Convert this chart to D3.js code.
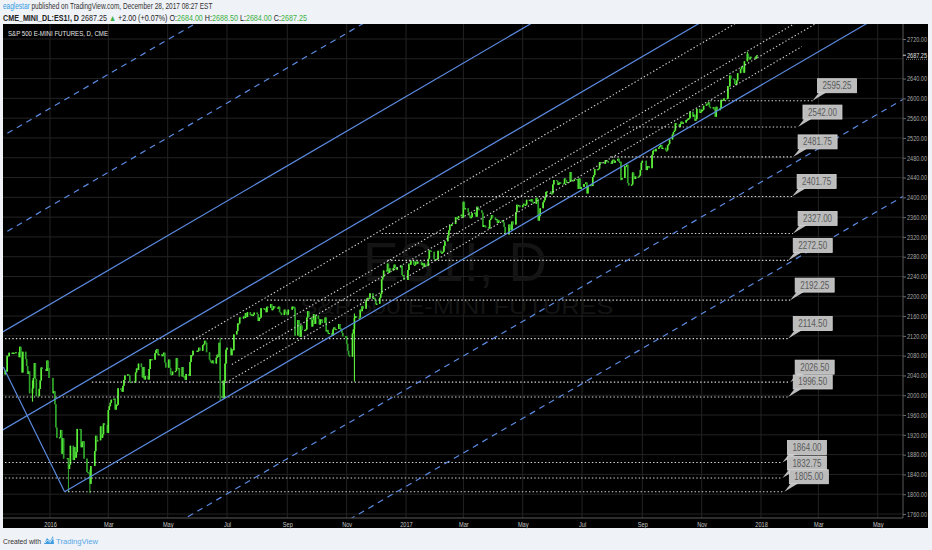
<!DOCTYPE html>
<html>
<head>
<meta charset="utf-8">
<script src="https://cdnjs.cloudflare.com/ajax/libs/d3/7.8.5/d3.min.js"></script>
<style>
    body { margin: 0; background: #eff2f7; }
    svg { display: block; font-family: "Liberation Sans", Arial, sans-serif; }
</style>
</head>
<body>
<div id="chart"></div>
<script>
// ES1! daily closes, one inner array per month (trading days only)
const firstDay = "2015-11-16";
const closes2015 = [
    [2050, 2048, 2080, 2079, 2086, 2084, 2086, 2086, 2087, 2077],
    [2098, 2077, 2046, 2088, 2073, 2059, 2043, 2048, 2004, 2014, 2035, 2065, 2033, 1998, 2013, 2030, 2056, 2053, 2049, 2070, 2055, 2035]
];
const closes2016 = [
    [2004, 2008, 1982, 1935, 1914, 1915, 1930, 1882, 1913, 1872, 1873, 1851, 1860, 1898, 1869, 1895, 1874, 1885, 1932],
    [1931, 1895, 1905, 1907, 1872, 1845, 1844, 1843, 1821, 1857, 1887, 1918, 1909, 1909, 1937, 1914, 1921, 1943, 1940, 1924],
    [1970, 1978, 1985, 1991, 1993, 1971, 1981, 1981, 2014, 2011, 2007, 2019, 2031, 2040, 2042, 2040, 2027, 2026, 2028, 2046, 2054, 2051],
    [2064, 2057, 2036, 2057, 2032, 2039, 2032, 2053, 2073, 2073, 2072, 2085, 2091, 2093, 2082, 2083, 2079, 2082, 2086, 2066, 2056],
    [2072, 2055, 2042, 2041, 2048, 2049, 2075, 2055, 2055, 2038, 2057, 2038, 2038, 2031, 2043, 2039, 2067, 2081, 2081, 2090, 2088],
    [2090, 2096, 2090, 2101, 2103, 2110, 2106, 2087, 2072, 2068, 2065, 2070, 2064, 2076, 2082, 2078, 2106, 2030, 1994, 2029, 2064, 2092],
    [2096, 2081, 2093, 2091, 2123, 2130, 2145, 2145, 2157, 2155, 2159, 2156, 2166, 2158, 2168, 2162, 2163, 2160, 2163, 2167],
    [2164, 2150, 2157, 2157, 2176, 2174, 2175, 2168, 2179, 2177, 2184, 2172, 2175, 2180, 2177, 2175, 2179, 2168, 2166, 2162, 2173, 2169, 2164],
    [2163, 2173, 2179, 2179, 2175, 2121, 2152, 2120, 2118, 2141, 2132, 2132, 2133, 2157, 2170, 2158, 2139, 2152, 2164, 2144, 2161],
    [2154, 2143, 2153, 2153, 2146, 2157, 2129, 2132, 2125, 2126, 2120, 2133, 2137, 2134, 2134, 2144, 2136, 2132, 2126, 2119, 2119],
    [2104, 2090, 2081, 2078, 2125, 2133, 2156, 2160, 2157, 2157, 2173, 2170, 2180, 2175, 2191, 2196, 2197, 2206, 2195, 2197, 2192],
    [2184, 2185, 2197, 2205, 2234, 2239, 2252, 2251, 2266, 2247, 2256, 2252, 2257, 2264, 2259, 2254, 2258, 2262, 2243, 2243, 2233]
];
const closes2017 = [
    [2253, 2266, 2264, 2272, 2264, 2264, 2270, 2266, 2270, 2263, 2267, 2259, 2266, 2261, 2276, 2293, 2292, 2290, 2275, 2274],
    [2275, 2276, 2292, 2288, 2288, 2290, 2302, 2311, 2323, 2333, 2344, 2342, 2346, 2360, 2357, 2358, 2362, 2365, 2359],
    [2391, 2376, 2378, 2370, 2363, 2358, 2360, 2368, 2369, 2361, 2381, 2377, 2374, 2369, 2340, 2344, 2341, 2340, 2337, 2354, 2357, 2364, 2359],
    [2355, 2356, 2348, 2353, 2351, 2353, 2349, 2340, 2325, 2345, 2338, 2334, 2351, 2345, 2370, 2385, 2383, 2384, 2380],
    [2384, 2387, 2384, 2385, 2395, 2395, 2392, 2396, 2390, 2387, 2399, 2396, 2353, 2362, 2378, 2390, 2394, 2400, 2411, 2412, 2408, 2408],
    [2426, 2435, 2433, 2425, 2429, 2430, 2428, 2427, 2438, 2435, 2430, 2431, 2451, 2435, 2434, 2433, 2436, 2437, 2417, 2438, 2417, 2421],
    [2427, 2430, 2408, 2423, 2425, 2423, 2441, 2445, 2457, 2457, 2458, 2471, 2471, 2470, 2468, 2475, 2475, 2473, 2470, 2468],
    [2474, 2476, 2470, 2474, 2478, 2472, 2472, 2436, 2439, 2463, 2462, 2466, 2429, 2424, 2426, 2450, 2442, 2437, 2442, 2442, 2444, 2455, 2470],
    [2474, 2455, 2463, 2463, 2459, 2486, 2494, 2496, 2493, 2498, 2501, 2504, 2506, 2498, 2500, 2495, 2495, 2505, 2508, 2517],
    [2527, 2532, 2535, 2550, 2547, 2542, 2548, 2553, 2549, 2551, 2556, 2557, 2559, 2560, 2573, 2563, 2567, 2555, 2558, 2579, 2571, 2573],
    [2577, 2577, 2585, 2589, 2588, 2592, 2583, 2580, 2582, 2577, 2563, 2583, 2576, 2580, 2597, 2595, 2600, 2599, 2625, 2624, 2646],
    [2640, 2639, 2629, 2629, 2636, 2651, 2659, 2664, 2662, 2652, 2675, 2690, 2681, 2679, 2684, 2683, 2680, 2685, 2687.25]
];
const firstOpen = 2042;
const holidays = ["2015-11-26", "2015-12-25", "2016-01-01", "2016-01-18", "2016-02-15", "2016-03-25", "2016-05-30",
    "2016-07-04", "2016-09-05", "2016-11-24", "2016-12-26", "2017-01-02", "2017-01-16", "2017-02-20", "2017-04-14",
    "2017-05-29", "2017-07-04", "2017-09-04", "2017-11-23", "2017-12-25"];
// long wicks: date, low, high
const wicks = [
    ["2015-12-14", 1987, 2030], ["2016-01-20", 1804, 1870], ["2016-02-11", 1802, 1850],
    ["2016-06-24", 1990, 2116], ["2016-09-09", 2120, 2178], ["2016-11-09", 2028, 2165],
    ["2017-08-10", 2434, 2470], ["2017-12-18", 2678, 2694]
];

// horizontal levels (callouts)
const levelPrices = [2595.25, 2542.00, 2481.75, 2401.75, 2327.00, 2272.50, 2192.25, 2114.50, 2026.50, 1996.50, 1864.00, 1832.75, 1805.00];
const levelStarts = ["2017-11-10", "2017-08-18", "2017-07-30", "2017-02-25", "2016-12-07", "2016-12-13", "2016-08-11",
    "2015-11-01", "2016-02-13", "2015-11-01", "2015-11-01", "2015-11-01", "2016-01-16"];
const levelEnds = ["2018-02-23", "2018-02-08", "2018-02-03", "2018-02-02", "2018-02-03", "2018-01-29", "2018-01-31",
    "2018-01-29", "2018-01-31", "2018-01-29", "2018-01-23", "2018-01-23", "2018-01-25"];

// pitchfork: lower tine through two points, other tines offset in price
const forkBase = [["2016-01-16", 1805], ["2018-01-01", 2626.5]];
const forkHandle = [["2015-11-14", 2057], ["2016-01-16", 1805]];
const forkOffsets = [-392, -196, 0, 198, 396, 594, 792];
const forkDashed = [true, true, false, false, false, true, true];

// dotted guide lines inside the fork
const guideOffsets = [155, 85, 60, 30];
const guideStarts = ["2016-05-27", "2016-07-31", "2016-07-06", "2016-06-27"];
const guideEnds = ["2018-08-01", "2018-08-01", "2018-08-01", "2018-02-12"];

const priceTicks = [1760, 1800, 1840, 1880, 1920, 1960, 2000, 2040, 2080, 2120, 2160, 2200, 2240, 2280, 2320, 2360,
    2400, 2440, 2480, 2520, 2560, 2600, 2640, 2680, 2720];
const timeTicks = ["2016-01-01", "2016-03-01", "2016-05-01", "2016-07-01", "2016-09-01", "2016-11-01", "2017-01-01",
    "2017-03-01", "2017-05-01", "2017-07-01", "2017-09-01", "2017-11-01", "2018-01-01", "2018-03-01", "2018-05-01"];
const timeTickLabels = ["2016", "Mar", "May", "Jul", "Sep", "Nov", "2017", "Mar", "May", "Jul", "Sep", "Nov", "2018", "Mar", "May"];
const lastPrice = 2687.25;

const plot = {left: 3, top: 24, right: 903, bottom: 518};
const font = '"Liberation Sans", Arial, sans-serif';
const green = "#3cb043";

let parse = d3.timeParse("%Y-%m-%d");
let fmt = d3.timeFormat("%Y-%m-%d");

let svg = d3.select("#chart")
    .append("svg")
    .attr("width", 932)
    .attr("height", 550);

let x = d3.scaleTime()
    .domain([new Date(2016, 0, 1), new Date(2018, 0, 1)])
    .range([50, 761]);
let y = d3.scaleLinear()
    .domain([1760, 2720])
    .range([514, 39]);

function fit(sel, w) {
    sel.attr("textLength", w).attr("lengthAdjust", "spacingAndGlyphs");
}

function condense(sel, factor) {
    sel.each(function () {
        let len = this.getComputedTextLength();
        d3.select(this).attr("textLength", len * factor).attr("lengthAdjust", "spacingAndGlyphs");
    });
}

// one line of coloured tspans, squeezed horizontally to a given width
function textRow(parts, x0, yb, size, totalW) {
    let g = svg.append("g");
    let t = g.append("text")
        .attr("x", 0).attr("y", yb)
        .attr("font-family", font)
        .attr("font-size", size);
    parts.forEach(function (p) {
        t.append("tspan")
            .attr("fill", p[1])
            .attr("font-weight", p[2])
            .text(p[0]);
    });
    let len = t.node().getComputedTextLength();
    g.attr("transform", "translate(" + x0 + ",0) scale(" + (totalW / len) + ",1)");
}

// build bars
let monthly = closes2015.concat(closes2016, closes2017);
let bars = [];
let day = parse(firstDay);
let m = 0, k = 0, curMonth = day.getMonth();
while (true) {
    if (day.getMonth() !== curMonth) {
        m++;
        k = 0;
        curMonth = day.getMonth();
        if (m >= monthly.length) break;
    }
    let wd = day.getDay();
    if (wd !== 0 && wd !== 6 && !holidays.includes(fmt(day))) {
        if (k < monthly[m].length) bars.push({date: new Date(day), close: monthly[m][k]});
        k++;
    }
    day = d3.timeDay.offset(day, 1);
}
for (let i = 0; i < bars.length; i++) {
    let b = bars[i];
    b.open = i === 0 ? firstOpen : bars[i - 1].close;
    b.high = Math.max(b.open, b.close);
    b.low = Math.min(b.open, b.close);
    let w = wicks.find(e => e[0] === fmt(b.date));
    if (w) {
        b.low = Math.min(b.low, w[1]);
        b.high = Math.max(b.high, w[2]);
    }
}

// chart background
svg.append("rect")
    .attr("x", 3).attr("y", 24)
    .attr("width", 925).attr("height", 504)
    .attr("fill", "#000");

svg.append("defs").append("clipPath")
    .attr("id", "plotclip")
    .append("rect")
    .attr("x", plot.left).attr("y", plot.top)
    .attr("width", plot.right - plot.left).attr("height", plot.bottom - plot.top);

let grid = svg.append("g");
grid.selectAll("line.v")
    .data(timeTicks)
    .enter()
    .append("line")
    .attr("x1", d => x(parse(d))).attr("x2", d => x(parse(d)))
    .attr("y1", plot.top).attr("y2", plot.bottom)
    .attr("stroke", "#232323");
grid.selectAll("line.h")
    .data(priceTicks)
    .enter()
    .append("line")
    .attr("x1", plot.left).attr("x2", plot.right)
    .attr("y1", d => y(d)).attr("y2", d => y(d))
    .attr("stroke", "#232323");

// watermark
svg.append("text")
    .attr("x", 455).attr("y", 281)
    .attr("text-anchor", "middle")
    .attr("font-family", font)
    .attr("font-size", 56)
    .attr("fill", "#141414")
    .text("ES1!, D")
    .call(fit, 184);
svg.append("text")
    .attr("x", 457).attr("y", 314)
    .attr("text-anchor", "middle")
    .attr("font-family", font)
    .attr("font-size", 22)
    .attr("fill", "#141414")
    .text("S&P 500 E-MINI FUTURES")
    .call(fit, 313);

svg.append("text")
    .attr("x", 8).attr("y", 36)
    .attr("font-family", font)
    .attr("font-size", 7.5)
    .attr("fill", "#e6e6e6")
    .text("S&P 500 E-MINI FUTURES, D, CME")
    .call(fit, 100);

let chart = svg.append("g").attr("clip-path", "url(#plotclip)");

// candles
let candles = chart.append("g");
candles.selectAll("line")
    .data(bars)
    .enter()
    .append("line")
    .attr("x1", d => x(d.date)).attr("x2", d => x(d.date))
    .attr("y1", d => y(d.high)).attr("y2", d => y(d.low))
    .attr("stroke", d => d.close >= d.open ? "#5cf03a" : "#2fa02a")
    .attr("stroke-width", 1.1);
candles.selectAll("rect")
    .data(bars)
    .enter()
    .append("rect")
    .attr("x", d => x(d.date) - 0.8)
    .attr("width", 1.6)
    .attr("y", d => y(Math.max(d.open, d.close)))
    .attr("height", d => Math.max(1.2, Math.abs(y(d.open) - y(d.close))))
    .attr("fill", d => d.close >= d.open ? "#5cf03a" : "#2fa02a");

// horizontal levels
chart.append("g")
    .selectAll("line")
    .data(levelPrices)
    .enter()
    .append("line")
    .attr("x1", (d, i) => x(parse(levelStarts[i])))
    .attr("x2", (d, i) => x(parse(levelEnds[i])))
    .attr("y1", d => y(d)).attr("y2", d => y(d))
    .attr("stroke", "#d8d8d8")
    .attr("stroke-width", 1.1)
    .attr("stroke-dasharray", "1.4,2.2");

// pitchfork
let forkD0 = parse(forkBase[0][0]), forkD1 = parse(forkBase[1][0]);
function forkPrice(date, offset) {
    let t = (date - forkD0) / (forkD1 - forkD0);
    return forkBase[0][1] + (forkBase[1][1] - forkBase[0][1]) * t + offset;
}
let farLeft = parse("2015-09-01"), farRight = parse("2018-09-01");
let fork = chart.append("g");
fork.selectAll("line.tine")
    .data(forkOffsets)
    .enter()
    .append("line")
    .attr("x1", d => x(d === 0 ? forkD0 : farLeft))
    .attr("y1", d => y(forkPrice(d === 0 ? forkD0 : farLeft, d)))
    .attr("x2", x(farRight))
    .attr("y2", d => y(forkPrice(farRight, d)))
    .attr("stroke", "#5b8ae0")
    .attr("stroke-width", 1.2)
    .attr("stroke-dasharray", (d, i) => forkDashed[i] ? "6,5" : null);
fork.append("line")
    .attr("x1", x(parse(forkHandle[0][0]))).attr("y1", y(forkHandle[0][1]))
    .attr("x2", x(parse(forkHandle[1][0]))).attr("y2", y(forkHandle[1][1]))
    .attr("stroke", "#5b8ae0")
    .attr("stroke-width", 1.2);

// dotted guides
chart.append("g")
    .selectAll("line")
    .data(guideOffsets)
    .enter()
    .append("line")
    .attr("x1", (d, i) => x(parse(guideStarts[i])))
    .attr("y1", (d, i) => y(forkPrice(parse(guideStarts[i]), d)))
    .attr("x2", (d, i) => x(parse(guideEnds[i])))
    .attr("y2", (d, i) => y(forkPrice(parse(guideEnds[i]), d)))
    .attr("stroke", "#d0d0d0")
    .attr("stroke-width", 1.1)
    .attr("stroke-dasharray", "1.4,2.2");

// callouts
let callouts = svg.append("g");
levelPrices.forEach(function (p, i) {
    let ax = x(parse(levelEnds[i])), ay = y(p);
    let bx = ax + 5, by = ay - 22;
    callouts.append("path")
        .attr("d", "M" + ax + "," + ay + "L" + (bx + 2) + "," + (by + 13) + "L" + (bx + 10) + "," + (by + 13) + "Z")
        .attr("fill", "#bcbcbc");
    callouts.append("rect")
        .attr("x", bx).attr("y", by)
        .attr("width", 39).attr("height", 14)
        .attr("fill", "#bcbcbc")
        .attr("stroke", "#d4d4d4")
        .attr("stroke-width", 0.8);
    callouts.append("text")
        .attr("x", bx + 19.5).attr("y", by + 10.5)
        .attr("text-anchor", "middle")
        .attr("font-family", font)
        .attr("font-size", 10.5)
        .attr("fill", "#5a5a5a")
        .text(d3.format(".2f")(p))
        .call(fit, 29);
});

// axes
svg.append("line")
    .attr("x1", plot.right).attr("x2", plot.right)
    .attr("y1", plot.top).attr("y2", plot.bottom)
    .attr("stroke", "#5a5a5a");
svg.append("line")
    .attr("x1", plot.left).attr("x2", plot.right)
    .attr("y1", plot.bottom).attr("y2", plot.bottom)
    .attr("stroke", "#5a5a5a");

// the 2680 label sits under the last-price marker, as in the original
let ya = svg.append("g")
    .attr("transform", "translate(" + plot.right + ",0)")
    .call(d3.axisRight(y).tickValues(priceTicks.filter(d => Math.abs(d - lastPrice) > 10))
        .tickFormat(d3.format(".2f")).tickSize(3).tickPadding(1));
ya.select(".domain").remove();
ya.selectAll("line").attr("stroke", "#6a6a6a");
ya.selectAll("text")
    .attr("fill", "#a8a8a8")
    .attr("font-family", font)
    .attr("font-size", 7)
    .call(fit, 20);

let xa = svg.append("g")
    .attr("transform", "translate(0," + plot.bottom + ")")
    .call(d3.axisBottom(x).tickValues(timeTicks.map(parse)).tickFormat((d, i) => timeTickLabels[i]).tickSize(0).tickPadding(4));
xa.select(".domain").remove();
xa.selectAll("text")
    .attr("fill", "#c4c4c4")
    .attr("font-family", font)
    .attr("font-size", 7.5)
    .call(condense, 0.75);

// last price marker
svg.append("line")
    .attr("x1", 906).attr("x2", 927)
    .attr("y1", y(2680) + 0.5).attr("y2", y(2680) + 0.5)
    .attr("stroke", "#777")
    .attr("stroke-dasharray", "1,1");
svg.append("line")
    .attr("x1", plot.right).attr("x2", plot.right + 3)
    .attr("y1", y(lastPrice)).attr("y2", y(lastPrice))
    .attr("stroke", "#cfcfcf");
svg.append("text")
    .attr("x", 907).attr("y", y(lastPrice) + 2.4)
    .attr("font-family", font)
    .attr("font-size", 7)
    .attr("fill", "#e0e0e0")
    .text(d3.format(".2f")(lastPrice))
    .call(fit, 20);

// header
textRow([
    ["eaglestar", "#2f9be0", null],
    [" published on TradingView.com, December 28, 2017 08:27 EST", "#333", null]
], 3, 9.5, 8.5, 210);
textRow([
    ["CME_MINI_DL:ES1!, D", "#222", "bold"], [" 2687.25 ", "#222", null], ["\u25B2", green, null],
    [" +2.00 (+0.07%) ", "#222", null], ["O:", "#222", null], ["2684.00", green, null],
    [" H:", "#222", null], ["2688.50", green, null], [" L:", "#222", null], ["2684.00", green, null],
    [" C:", "#222", null], ["2687.25", green, null]
], 3, 21, 8.5, 304);

// footer
svg.append("text")
    .attr("x", 3).attr("y", 544)
    .attr("font-family", font)
    .attr("font-size", 8)
    .attr("fill", "#333")
    .text("Created with")
    .call(fit, 38);
let logo = svg.append("g").attr("transform", "translate(44,536)");
logo.append("path")
    .attr("d", "M0,8 L3,2 L6,5 L9,0 L10,8 Z")
    .attr("fill", "#3d9be0");
logo.append("path")
    .attr("d", "M1,7 L3.5,4 L6,6.5 L9,2")
    .attr("fill", "none")
    .attr("stroke", "#fff")
    .attr("stroke-width", 0.8);
svg.append("text")
    .attr("x", 56).attr("y", 544)
    .attr("font-family", font)
    .attr("font-size", 8)
    .attr("fill", "#56a8e4")
    .text("TradingView")
    .call(fit, 42);
</script>
</body>
</html>
